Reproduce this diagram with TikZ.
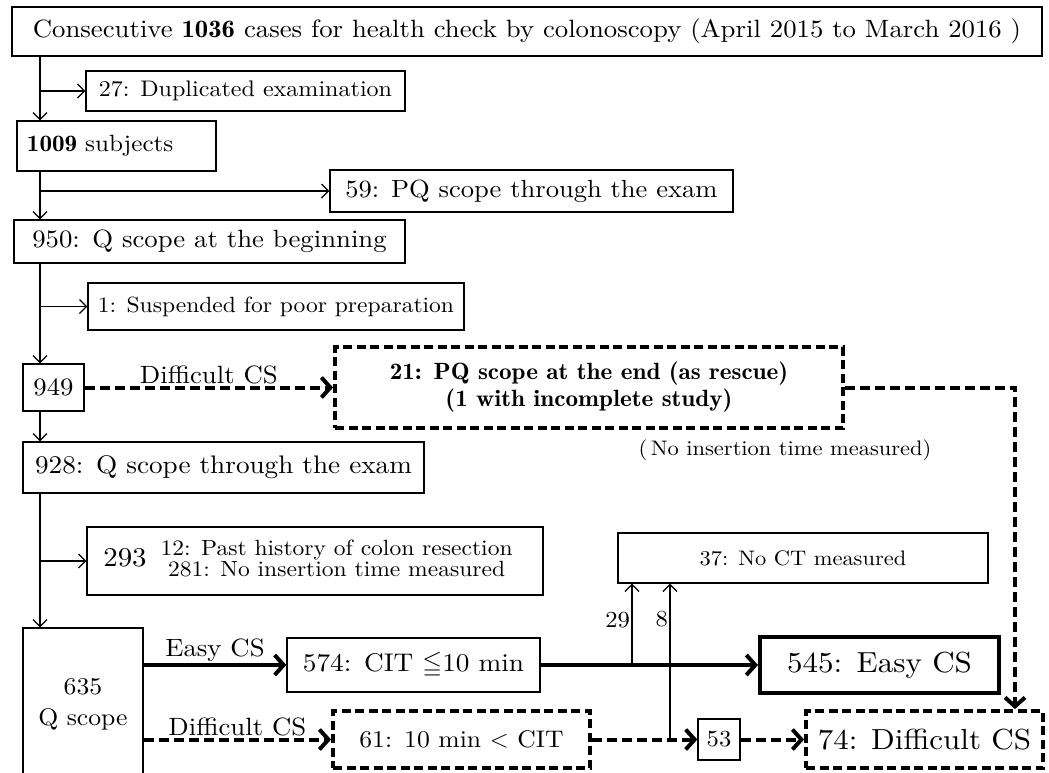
\documentclass[tikz,border=0pt]{standalone}
\usepackage{amssymb}
\usepackage{fontspec}
\setmainfont{lmroman10-regular.otf}[BoldFont=lmromandemi10-regular.otf, FakeStretch=1.07]
\usetikzlibrary{arrows.meta}

\tikzset{
  box/.style={draw, line width=1.3pt, inner sep=0pt, align=center},
  dbox/.style={box, line width=3.8pt, dash pattern=on 9pt off 4.5pt},
  bbox/.style={box, line width=4pt},
  lab/.style={inner sep=1.5pt},
  arr/.style={line width=1.2pt, -{Straight Barb[length=7pt,width=14pt]}},
  barr/.style={line width=4pt, -{Straight Barb[length=9pt,width=20pt]}},
  darr/.style={barr, dash pattern=on 10pt off 5pt},
}
\newcommand{\fs}[1]{\fontsize{#1}{#1}\selectfont}

\begin{document}
\begin{tikzpicture}[x=1pt, y=-1pt]

  \useasboundingbox (0,0) rectangle (1049,772);

  % guide lines for the connectors
  \coordinate (trunk) at (40,0);
  \coordinate (drop) at (1015,0);
  \coordinate (rise29) at (632,0);
  \coordinate (rise8) at (670,0);

  % main column
  \node[box, minimum width=1030pt, minimum height=49pt, font=\fs{25}] (total) at (527,31.5)
    {Consecutive \textbf{1036} cases for health check by colonoscopy (April 2015 to March 2016 )};
  \node[box, minimum width=319pt, minimum height=40pt, font=\fs{22.5}] (dup) at (245.5,91) {27: Duplicated examination};
  \node[box, minimum width=199pt, minimum height=50pt, text width=179pt, align=left, font=\fs{23.5}] (subj) at (116.5,146) {\textbf{1009} subjects};
  \node[box, minimum width=403pt, minimum height=42pt, font=\fs{24.8}] (pq59) at (531.5,191) {59: PQ scope through the exam};
  \node[box, minimum width=391pt, minimum height=43pt, font=\fs{25}] (q950) at (209.5,241.5) {950:\enspace Q scope at the beginning};
  \node[box, minimum width=376pt, minimum height=47pt, font=\fs{22}] (susp) at (276,306.5) {1: Suspended for poor preparation};
  \node[box, minimum width=61pt, minimum height=47pt, font=\fs{25}] (n949) at (53.5,387.5) {949};
  \node[box, minimum width=401pt, minimum height=51pt, font=\fs{25.4}] (q928) at (223.5,467.5) {928:\enspace Q scope through the exam};
  \node[box, minimum width=456pt, minimum height=68pt] (excl) at (315,561)
    {\fs{27}293\hspace{14pt}\fontsize{22}{19.5}\selectfont\begin{tabular}{@{}c@{}}12: Past history of colon resection\\281: No insertion time measured\end{tabular}\hspace{14pt}};
  \node[box, minimum width=120pt, minimum height=152pt, font=\fontsize{24}{31}\selectfont] (q635) at (83,704) {635\\Q scope};

  % rescue with the PQ scope
  \node[dbox, minimum width=508pt, minimum height=81pt, font=\fontsize{23.5}{27}\selectfont\bfseries] (pq21) at (589,387.5)
    {21:\enspace PQ scope at the end (as rescue)\\(1 with incomplete study)};
  \node[font=\fs{21}] (note) at (785,450) {(\,No insertion time measured)};

  % outcome boxes
  \node[box, minimum width=370pt, minimum height=50pt, font=\fs{21}] (nct37) at (803,558) {37: No CT measured};
  \node[box, minimum width=253pt, minimum height=54pt, font=\fs{25.5}] (cit574) at (413.5,665) {574:\enspace CIT $\leqq$10 min};
  \node[bbox, minimum width=239pt, minimum height=56pt, font=\fs{29}] (easy545) at (879.5,665) {545:\enspace Easy CS};
  \node[dbox, minimum width=257pt, minimum height=57pt, font=\fs{24}] (cit61) at (461.5,739.5) {61:\enspace 10 min $<$ CIT};
  \node[box, minimum width=42pt, minimum height=41pt, font=\fs{23}] (n53) at (719,739.5) {53};
  \node[dbox, minimum width=237pt, minimum height=57pt, font=\fs{29}] (diff74) at (924.5,739.5) {74: Difficult CS};

  % connectors of the main column
  \draw[arr] (total.south -| trunk) -- (subj.north -| trunk);
  \draw[arr] (trunk |- dup.west) -- (dup.west);
  \draw[arr] (subj.south -| trunk) -- (q950.north -| trunk);
  \draw[arr] (trunk |- pq59.west) -- (pq59.west);
  \draw[arr] (q950.south -| trunk) -- (n949.north -| trunk);
  \draw[arr] (trunk |- susp.west) -- (susp.west);
  \draw[arr] (n949.south -| trunk) -- (q928.north -| trunk);
  \draw[arr] (q928.south -| trunk) -- (q635.north -| trunk);
  \draw[arr] (trunk |- excl.west) -- (excl.west);

  % difficult cases
  \draw[darr] (n949) -- node[lab, above, font=\fs{25}] {Difficult CS} (pq21);
  \draw[darr] (pq21.east) -| (drop |- diff74.north);

  % easy / difficult split
  \draw[barr] (q635.east |- cit574.west) -- node[lab, above, font=\fs{25}] {Easy CS} (cit574.west);
  \draw[barr] (cit574) -- (easy545);
  \draw[darr] (q635.east |- cit61.west) -- node[lab, above, font=\fs{25}] {Difficult CS} (cit61.west);
  \draw[darr] (cit61) -- (n53);
  \draw[darr] (n53) -- (diff74);
  \draw[arr] (rise29 |- cit574.east) -- node[lab, left, pos=0.55, font=\fs{23}] {29} (rise29 |- nct37.south);
  \draw[arr] (rise8 |- n53.west) -- node[lab, left, pos=0.77, font=\fs{23}] {8} (rise8 |- nct37.south);

\end{tikzpicture}
\end{document}
